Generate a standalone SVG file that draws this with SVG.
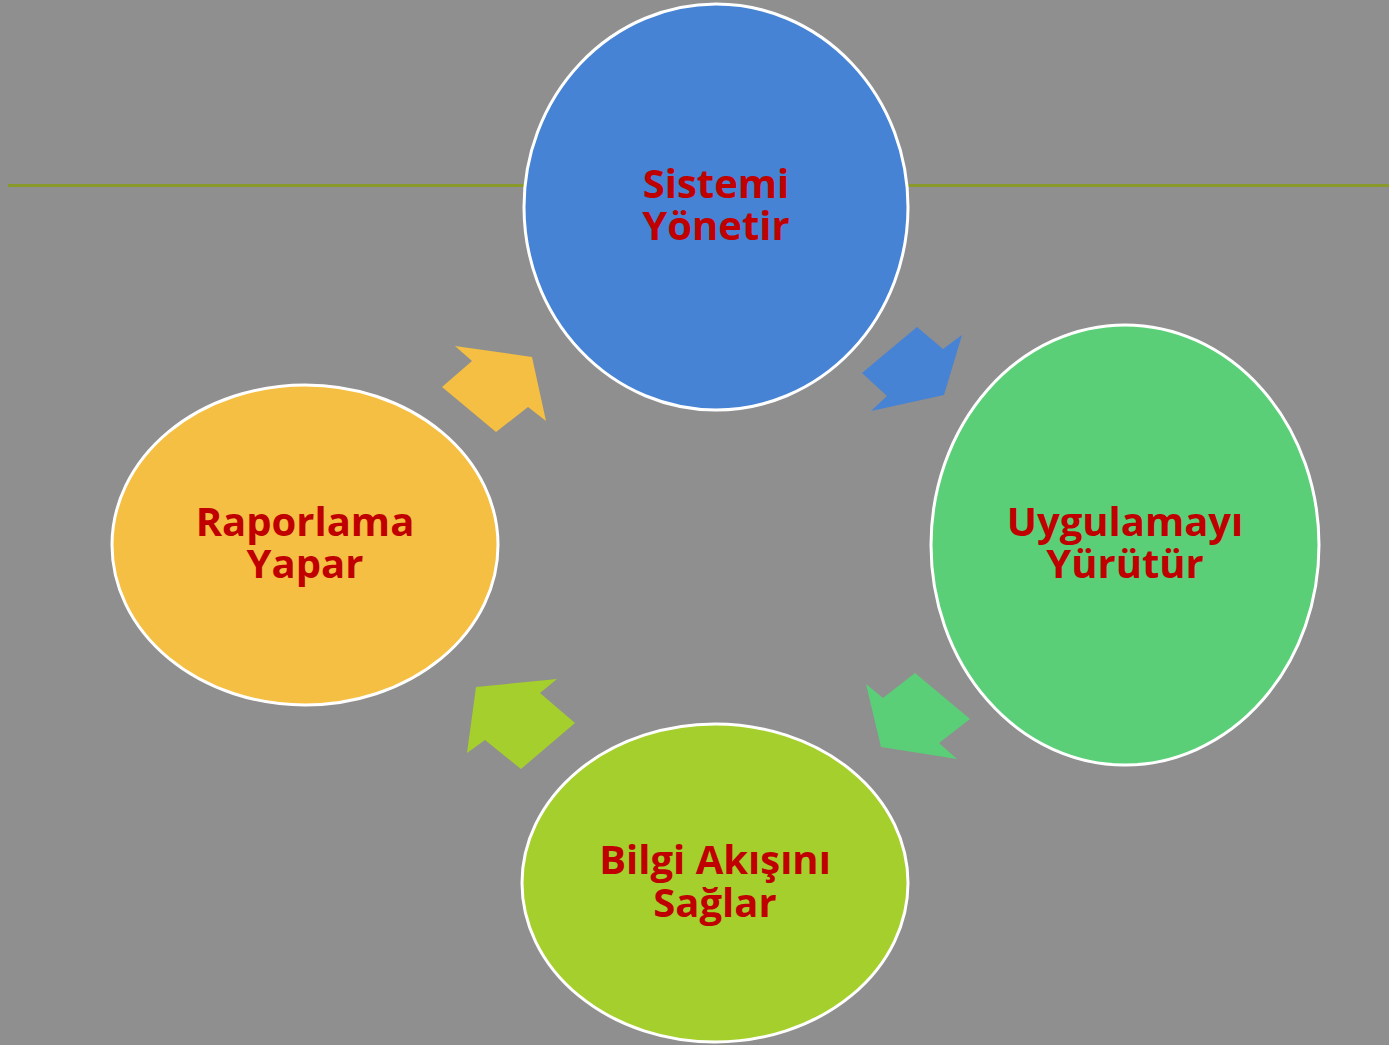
<svg xmlns="http://www.w3.org/2000/svg" width="1389" height="1045" viewBox="0 0 1389 1045">
<defs>
<style>
.node{stroke:#ffffff;stroke-width:3}
.lbl{font-family:"Open Sans","DejaVu Sans",sans-serif;font-weight:bold;font-size:40px;fill:#c00000;text-anchor:middle}
</style>
<filter id="sh" x="-5%" y="-200%" width="110%" height="500%"><feGaussianBlur stdDeviation="2"/></filter>
</defs>
<rect width="1389" height="1045" fill="#8f8f8f"/>
<g id="rule">
<line x1="8" y1="189" x2="1389" y2="189" stroke="#808080" stroke-width="4" filter="url(#sh)"/>
<line x1="8" y1="185.5" x2="1389" y2="185.5" stroke="#8a9a2a" stroke-width="3"/>
</g>
<g id="connectors">
<polygon points="455,346 532,357 546,421 528,407 496,432 442,387 472,361" fill="#f4bf42"/>
<polygon points="917,327 943,349 962,335 944,395 871,411 887,396 862,373" fill="#4683d4"/>
<polygon points="915,673 970,719 939,743 957,759 881,747 866,684 883,698" fill="#5bcf78"/>
<polygon points="557,679 540,693 575,723 521,769 485,740 467,753 476,687" fill="#a4cf2c"/>
</g>
<g id="n1">
<ellipse class="node" cx="716" cy="207" rx="192" ry="203" fill="#4683d4"/>
<text class="lbl" x="716" y="198">Sistemi</text>
<text class="lbl" x="716" y="240">Yönetir</text>
</g>
<g id="n2">
<ellipse class="node" cx="1125" cy="545" rx="194" ry="220" fill="#5bcf78"/>
<text class="lbl" x="1125" y="536">Uygulamayı</text>
<text class="lbl" x="1125" y="578">Yürütür</text>
</g>
<g id="n3">
<ellipse class="node" cx="715" cy="883" rx="193" ry="159" fill="#a4cf2c"/>
<text class="lbl" x="715" y="874">Bilgi Akışını</text>
<text class="lbl" x="715" y="917">Sağlar</text>
</g>
<g id="n4">
<ellipse class="node" cx="305" cy="545" rx="193" ry="160" fill="#f4bf42"/>
<text class="lbl" x="305" y="536">Raporlama</text>
<text class="lbl" x="305" y="578">Yapar</text>
</g>
</svg>
